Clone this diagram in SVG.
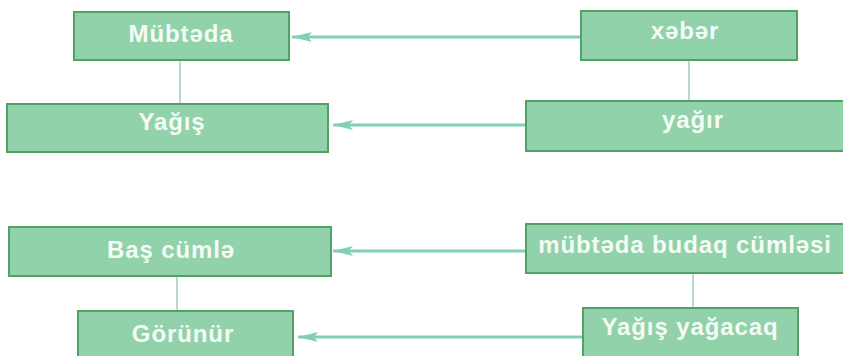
<svg xmlns="http://www.w3.org/2000/svg" width="843" height="356" viewBox="0 0 843 356">
<style>
.box{fill:#91d2aa;stroke:#52a266;stroke-width:2}
.lbl{font-family:"Liberation Sans",Arial,sans-serif;font-weight:bold;font-size:24px;letter-spacing:0.9px;fill:#f5fbf5;text-anchor:middle}
.arr{stroke:#82cfb9;stroke-width:3;fill:none;marker-end:url(#ah)}
.vl{stroke:#a8cfbf;stroke-width:1.6;fill:none}
</style>
<defs>
<marker id="ah" markerUnits="userSpaceOnUse" markerWidth="22" markerHeight="10" refX="20" refY="5" orient="auto">
<path d="M0,0 L20,5 L0,10 L4,5 Z" fill="#82cfb9"/>
</marker>
</defs>
<rect width="843" height="356" fill="#ffffff"/>
<g id="connectors">
<line class="arr" x1="581" y1="37" x2="292" y2="37"/>
<line class="arr" x1="526" y1="125" x2="333" y2="125"/>
<line class="arr" x1="526" y1="251" x2="333" y2="251"/>
<line class="arr" x1="583" y1="337" x2="298" y2="337"/>
<line class="vl" x1="180" y1="60" x2="180" y2="104"/>
<line class="vl" x1="689" y1="60" x2="689" y2="101"/>
<line class="vl" x1="177" y1="276" x2="177" y2="311"/>
<line class="vl" x1="693" y1="273" x2="693" y2="308"/>
</g>
<g id="mubtada">
<rect class="box" x="74" y="12" width="215" height="48"/>
<text class="lbl" x="181" y="42">Mübtəda</text>
</g>
<g id="xabar">
<rect class="box" x="581" y="11" width="216" height="49"/>
<text class="lbl" x="685" y="39">xəbər</text>
</g>
<g id="yagis">
<rect class="box" x="7" y="104" width="321" height="48"/>
<text class="lbl" x="172" y="130">Yağış</text>
</g>
<g id="yagir">
<rect class="box" x="526" y="101" width="330" height="50"/>
<text class="lbl" x="693" y="128">yağır</text>
</g>
<g id="bas-cumle">
<rect class="box" x="9" y="227" width="322" height="49"/>
<text class="lbl" x="171" y="258">Baş cümlə</text>
</g>
<g id="mubtada-budaq">
<rect class="box" x="526" y="224" width="330" height="49"/>
<text class="lbl" x="685" y="253">mübtəda budaq cümləsi</text>
</g>
<g id="gorunur">
<rect class="box" x="78" y="311" width="215" height="60"/>
<text class="lbl" x="183" y="342">Görünür</text>
</g>
<g id="yagis-yagacaq">
<rect class="box" x="583" y="308" width="215" height="60"/>
<text class="lbl" x="690" y="335">Yağış yağacaq</text>
</g>
</svg>
